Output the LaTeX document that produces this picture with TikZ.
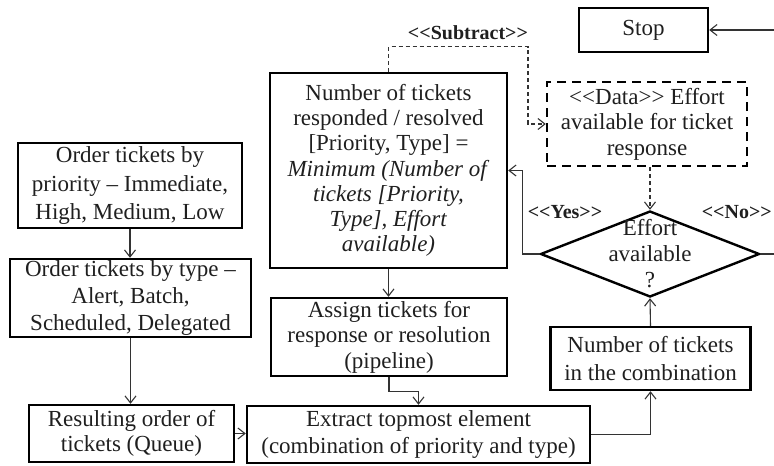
\documentclass[tikz,border=0pt]{standalone}
\usepackage{fontspec}
\setmainfont{Liberation Serif}
\usetikzlibrary{arrows.meta,shapes.geometric,calc}
\begin{document}
\begin{tikzpicture}[x=1pt,y=-1pt,
  txt/.style={text=black!88, align=center, inner sep=0pt, font=\fontsize{23}{26.5}\selectfont},
  box/.style={txt, draw=black, line width=2.4pt},
  dbox/.style={box, dash pattern=on 9pt off 6pt},
  lbl/.style={text=black!88, inner sep=0pt, font=\fontsize{20}{22}\selectfont\bfseries},
  conn/.style={draw=black!80, line width=1.1pt, -{Straight Barb[length=7pt,width=11pt]}},
  sub/.style={conn, dash pattern=on 4pt off 3pt}]
\useasboundingbox (0,0) rectangle (774,466);

\node[box, minimum width=129pt, minimum height=44pt] (stop) at (643.5,30) {Stop};
\node[dbox, minimum width=200pt, minimum height=84pt, font=\fontsize{23}{25.5}\selectfont] (data) at (647,124)
  {<{}<Data>{}> Effort\\available for ticket\\response};
\node[draw=black, line width=2.4pt, shape=diamond, inner sep=0pt, minimum width=219pt, minimum height=86pt] (dia) at (650,254) {};
\node[txt, font=\fontsize{23}{26}\selectfont] (diat) at (650,254) {Effort\\available\\?};
\node[box, minimum width=237pt, minimum height=195pt, font=\fontsize{23}{25.2}\selectfont] (big) at (388.5,170.5)
  {Number of tickets\\responded / resolved\\{[Priority, Type] =}\\\textit{Minimum (Number of}\\\textit{tickets [Priority,}\\\textit{Type], Effort}\\\textit{available)}};
\node[box, minimum width=236pt, minimum height=78pt, font=\fontsize{23}{25.5}\selectfont] (asg) at (389,337)
  {Assign tickets for\\response or resolution\\(pipeline)};
\node[box, minimum width=343pt, minimum height=57pt, font=\fontsize{23}{27}\selectfont] (ext) at (418.5,434.5)
  {Extract topmost element\\(combination of priority and type)};
\node[box, minimum width=200pt, minimum height=63pt, font=\fontsize{23}{28}\selectfont] (nc) at (650.5,358.5)
  {Number of tickets\\in the combination};
\node[box, minimum width=224pt, minimum height=85pt, font=\fontsize{23}{28.5}\selectfont] (pri) at (130,185.5)
  {Order tickets by\\priority – Immediate,\\High, Medium, Low};
\node[box, minimum width=241pt, minimum height=78pt, font=\fontsize{23}{27}\selectfont] (typ) at (130.5,298)
  {Order tickets by type –\\Alert, Batch,\\Scheduled, Delegated};
\node[box, minimum width=205pt, minimum height=57pt, font=\fontsize{23}{24.5}\selectfont] (res) at (131.5,433.5)
  {Resulting order of\\tickets (Queue)};

\node[lbl] (lsub) at (468,33) {<{}<Subtract>{}>};
\node[lbl] (lyes) at (565,212) {<{}<Yes>{}>};
\node[lbl, anchor=east] (lno) at (772,212) {<{}<No>{}>};

\draw[conn] (pri.south) -- (pri.south |- typ.north);
\draw[conn] (typ.south) -- (typ.south |- res.north);
\draw[conn] (res.east) -- (res.east -| ext.west);
\draw[conn] (big.south) -- (big.south |- asg.north);
\draw[conn] (asg.south) -- ++(0,14) -| (ext.north);
\draw[conn] (ext.east) -| (nc.south);
\draw[conn] (nc.north) -- (dia.south);
\draw[sub] (data.south -| dia.north) -- (dia.north);
\draw[conn] (dia.west) -- ++(-17,0) |- (big.east);
\draw[conn] (dia.east) -- ++(40,0) |- (stop.east);
\draw[sub] (big.north) -- ++(0,-25) -- ++(139.5,0) |- (data.west);
\end{tikzpicture}
\end{document}
